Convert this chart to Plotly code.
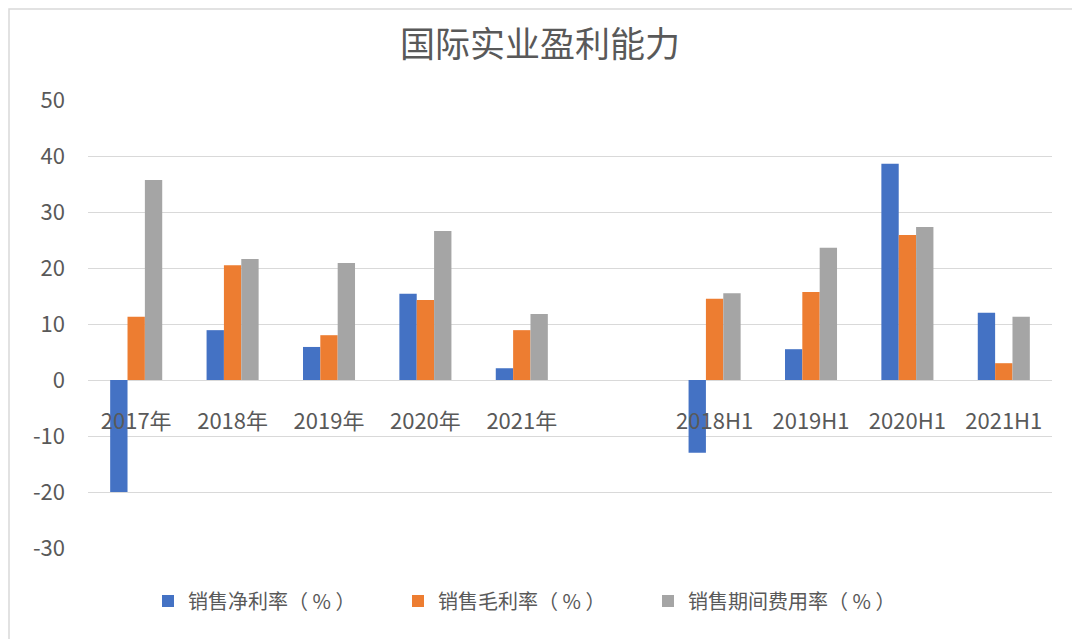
import plotly.graph_objects as go

categories = ["2017年", "2018年", "2019年", "2020年", "2021年", " ",
              "2018H1", "2019H1", "2020H1", "2021H1"]
net_margin = [-20.0, 8.9, 5.9, 15.4, 2.1, None, -13.0, 5.5, 38.6, 12.0]
gross_margin = [11.3, 20.5, 8.0, 14.3, 8.9, None, 14.5, 15.7, 25.9, 3.0]
expense_ratio = [35.7, 21.6, 20.9, 26.6, 11.8, None, 15.5, 23.6, 27.3, 11.3]
series_names = ["销售净利率（ % ）", "销售毛利率（ % ）", "销售期间费用率（ % ）"]
colors = ["#4472C4", "#ED7D31", "#A5A5A5"]
y_ticks = [-30, -20, -10, 0, 10, 20, 30, 40, 50]
y_tick_labels = ["-30", "-20", "-10", "0", "10", "20", "30", "40", "50"]

FONT = "Noto Sans CJK SC, Microsoft YaHei, sans-serif"
TXT = "#595959"

fig = go.Figure()
for name, vals, c in zip(series_names, [net_margin, gross_margin, expense_ratio], colors):
    fig.add_trace(go.Bar(x=categories, y=vals, name=name, marker_color=c,
                         marker_line_width=0))

ymin, ymax = -30, 50
L, R, T, B = 80, 36, 92, 99
PW, PH = 1080 - L - R, 639 - T - B
fig.update_layout(
    width=1080, height=639,
    margin=dict(l=L, r=R, t=T, b=B),
    paper_bgcolor="white", plot_bgcolor="white",
    font=dict(family=FONT, color=TXT, size=20),
    title=dict(text="国际实业盈利能力", x=(540 - 8) / 1080, xanchor="center",
               y=1 - 37 / 639, yanchor="middle",
               font=dict(size=35, color=TXT, family=FONT)),
    barmode="group", bargap=0.46, bargroupgap=0,
    legend=dict(orientation="h", x=(540 - 8 - 17 - L) / PW, xanchor="center",
                y=-53 / PH, yanchor="middle",
                font=dict(size=20, color=TXT), itemwidth=30, tracegroupgap=0,
                entrywidth=205, entrywidthmode="pixels"),
    showlegend=True,
)
fig.update_yaxes(range=[ymin, ymax], tickmode="array", tickvals=y_ticks,
                 ticktext=y_tick_labels, showgrid=True, gridcolor="#D9D9D9",
                 gridwidth=1.3, zeroline=True, zerolinecolor="#D9D9D9", zerolinewidth=1.3,
                 tickfont=dict(size=22, color=TXT), ticks="", showline=False,
                 fixedrange=True, ticklabelstandoff=22)
fig.update_xaxes(type="category", categoryorder="array", categoryarray=categories,
                 anchor="free", position=(0 - ymin) / (ymax - ymin),
                 showline=False, showgrid=False, ticks="outside", ticklen=22,
                 tickcolor="rgba(0,0,0,0)", tickfont=dict(size=22, color=TXT))
fig.add_shape(type="rect", xref="paper", yref="paper", x0=-(L - 1) / PW, x1=1 + (R - 2) / PW,
              y0=-(B - 2) / PH, y1=1 + (T - 1) / PH, line=dict(color="#D9D9D9", width=1.5),
              fillcolor="rgba(0,0,0,0)", layer="below")

fig.write_html("out.html")
